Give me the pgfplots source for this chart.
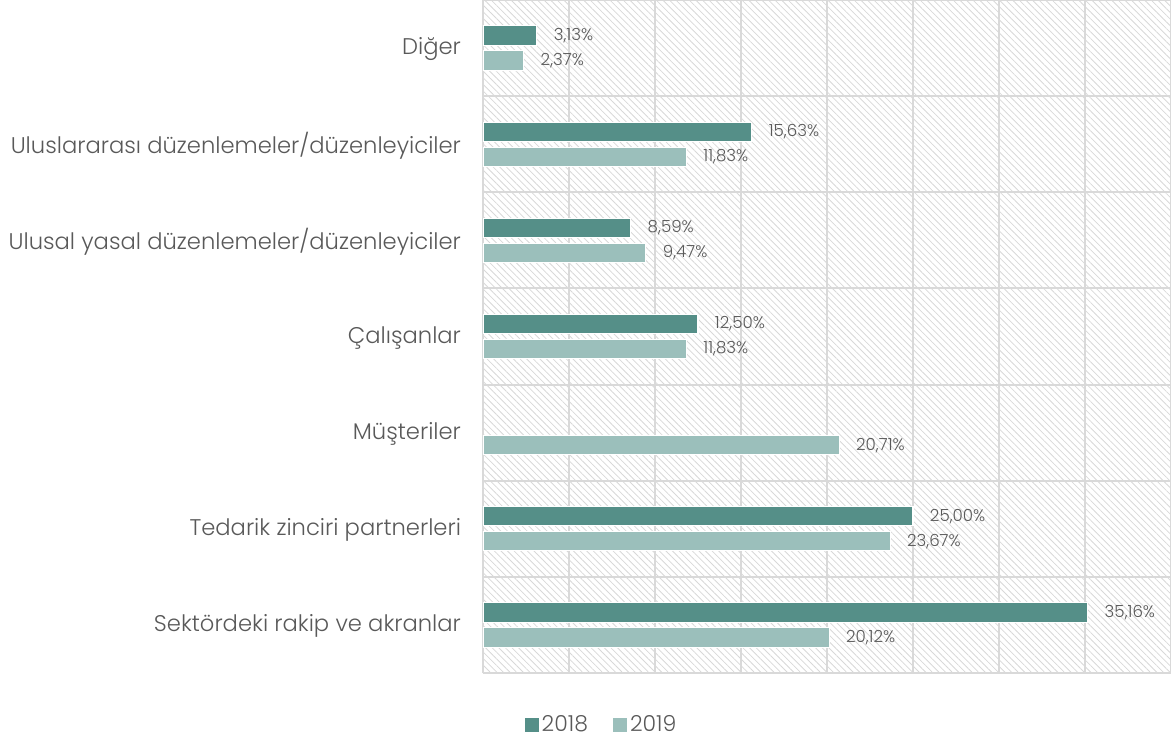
\documentclass[border=0pt]{standalone}
\usepackage{pgfplots}
\pgfplotsset{compat=1.18}
\usepackage{pgfplotstable}
\usepackage{fontspec}
\setmainfont{Poppins Light}
\usetikzlibrary{patterns.meta}
\definecolor{c18}{HTML}{558F88}
\definecolor{c19}{HTML}{9BBFBB}
\definecolor{txt}{HTML}{595959}
\definecolor{grd}{HTML}{D9D9D9}
\definecolor{hatch}{HTML}{D8D8D8}

\pgfplotstableread{
y x label
6 3.13 3,13
5 15.63 15,63
4 8.59 8,59
3 12.50 12,50
1 25.00 25,00
0 35.16 35,16
}\dataA
\pgfplotstableread{
y x label
6 2.37 2,37
5 11.83 11,83
4 9.47 9,47
3 11.83 11,83
2 20.71 20,71
1 23.67 23,67
0 20.12 20,12
}\dataB

\begin{document}
\begin{tikzpicture}
\useasboundingbox (-362.25pt,-52.5pt) rectangle (516pt,504.75pt);
\begin{axis}[
  scale only axis,
  width=516pt, height=504.75pt,
  xmin=0, xmax=40, ymin=-0.5, ymax=6.5,
  xtick={0,5,...,40}, xticklabels={},
  ytick={0,1,2,3,4,5,6},
  yticklabels={Sektördeki rakip ve akranlar, Tedarik zinciri partnerleri, Müşteriler, Çalışanlar, Ulusal yasal düzenlemeler/düzenleyiciler, Uluslararası düzenlemeler/düzenleyiciler, Diğer},
  minor ytick={-0.5,0.5,...,6.5},
  xmajorgrids=true, yminorgrids=true, ymajorgrids=false,
  grid style={grd, line width=1.5pt},
  minor grid style={grd, line width=1.5pt},
  axis line style={draw=none},
  tick style={draw=none},
  major tick length=0pt, minor tick length=0pt,
  yticklabel style={font=\fontsize{17}{20}\selectfont, text=txt, xshift=-13pt, yshift=-1pt},
  axis background/.style={pattern={Lines[angle=-45,distance=3.5pt,line width=0.6pt]}, pattern color=hatch},
  xbar, bar width=0.2,
  point meta=explicit symbolic,
  nodes near coords={\pgfplotspointmeta\%},
  nodes near coords style={font=\fontsize{12.5}{15}\selectfont, text=txt, anchor=west, xshift=9pt},
  legend style={at={(rel axis cs:0.173,-0.077)}, anchor=center, draw=none, fill=none,
    font=\fontsize{16.5}{19}\selectfont, text=txt, legend columns=2,
    /tikz/every even column/.append style={column sep=17pt}},
  legend image code/.code={\path[#1,draw=none] (-2.5pt,-5.25pt) rectangle (8pt,5.25pt);},
]
\addplot[fill=c18, draw=white, line width=0.8pt, bar shift=0.13] table[x=x, y=y, meta=label] {\dataA};
\addlegendentry{2018}
\addplot[fill=c19, draw=white, line width=0.8pt, bar shift=-0.13] table[x=x, y=y, meta=label] {\dataB};
\addlegendentry{2019}
\end{axis}
\end{tikzpicture}
\end{document}
